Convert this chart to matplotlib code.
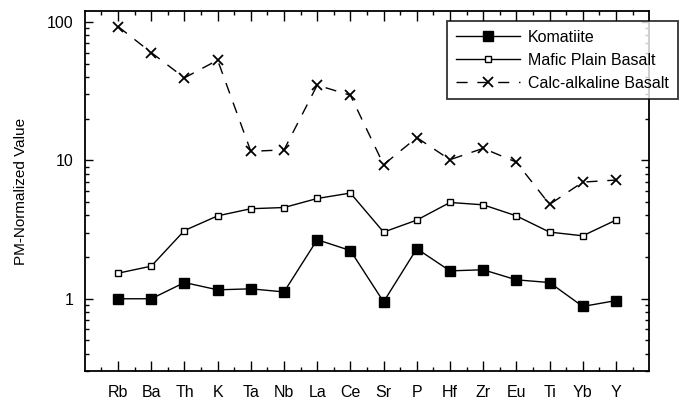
import matplotlib
matplotlib.use("Agg")
import matplotlib.pyplot as plt
import numpy as np
from matplotlib.ticker import LogLocator, NullFormatter, FixedLocator

plt.rcParams['font.family'] = ['Liberation Sans', 'DejaVu Sans']

elements = ["Rb", "Ba", "Th", "K", "Ta", "Nb", "La", "Ce", "Sr", "P",
            "Hf", "Zr", "Eu", "Ti", "Yb", "Y"]

# PM-normalized values
komatiite = [1.0, 1.0, 1.31, 1.16, 1.18, 1.12, 2.67, 2.23, 0.95, 2.30,
             1.59, 1.62, 1.37, 1.31, 0.88, 0.97]
mafic_plain = [1.53, 1.72, 3.11, 3.97, 4.47, 4.56, 5.3, 5.8, 3.03, 3.70,
               4.96, 4.77, 3.97, 3.03, 2.85, 3.70]
calc_alkaline = [92.5, 60.0, 39.4, 52.9, 11.6, 11.9, 34.9, 29.5, 9.3, 14.6,
                 10.1, 12.2, 9.7, 4.8, 6.96, 7.2]

x = np.arange(len(elements))

fig = plt.figure(figsize=(6.79, 4.03), dpi=100)
ax = fig.add_axes([0.125, 0.079, 0.831, 0.894])

ax.plot(x, komatiite, color='black', lw=1.0, marker='s', ms=7,
        mfc='black', mec='black', label='Komatiite')
ax.plot(x, mafic_plain, color='black', lw=1.0, marker='s', ms=4.2,
        mfc='white', mec='black', mew=1.0, label='Mafic Plain Basalt')
ax.plot(x, calc_alkaline, color='black', lw=1.0, ls=(0, (8, 7)), marker='x',
        ms=6.5, mew=1.3, label='Calc-alkaline Basalt')

ax.set_yscale('log')
ax.set_ylim(0.3, 120)
ax.set_xlim(-1, 16)

ax.set_xticks(x)
ax.set_xticklabels(elements, fontsize=11.5)
ax.xaxis.set_minor_locator(FixedLocator(np.arange(-0.5, 16, 1)))
ax.set_yticks([1, 10, 100])
ax.set_yticklabels(["1", "10", "100"], fontsize=11.5)
ax.yaxis.set_minor_locator(LogLocator(base=10, subs=np.arange(2, 10)))
ax.yaxis.set_minor_formatter(NullFormatter())

ax.tick_params(which='both', direction='in', top=True, right=True, width=1.0)
ax.tick_params(axis='x', which='major', length=7, pad=10)
ax.tick_params(axis='x', which='minor', length=3)
ax.tick_params(axis='y', which='major', length=6, pad=8)
ax.tick_params(axis='y', which='minor', length=3)

for s in ax.spines.values():
    s.set_linewidth(1.3)

ax.set_ylabel('PM-Normalized Value', fontsize=11, labelpad=14)

leg = ax.legend(loc='upper right', bbox_to_anchor=(0.998, 0.948), bbox_transform=fig.transFigure,
                borderaxespad=0, fontsize=11.5, frameon=True, fancybox=False, edgecolor='black',
                handlelength=4.0, borderpad=0.55, labelspacing=0.5, handletextpad=0.5)
leg.get_frame().set_linewidth(1.3)

fig.savefig("out.png", dpi=100)
